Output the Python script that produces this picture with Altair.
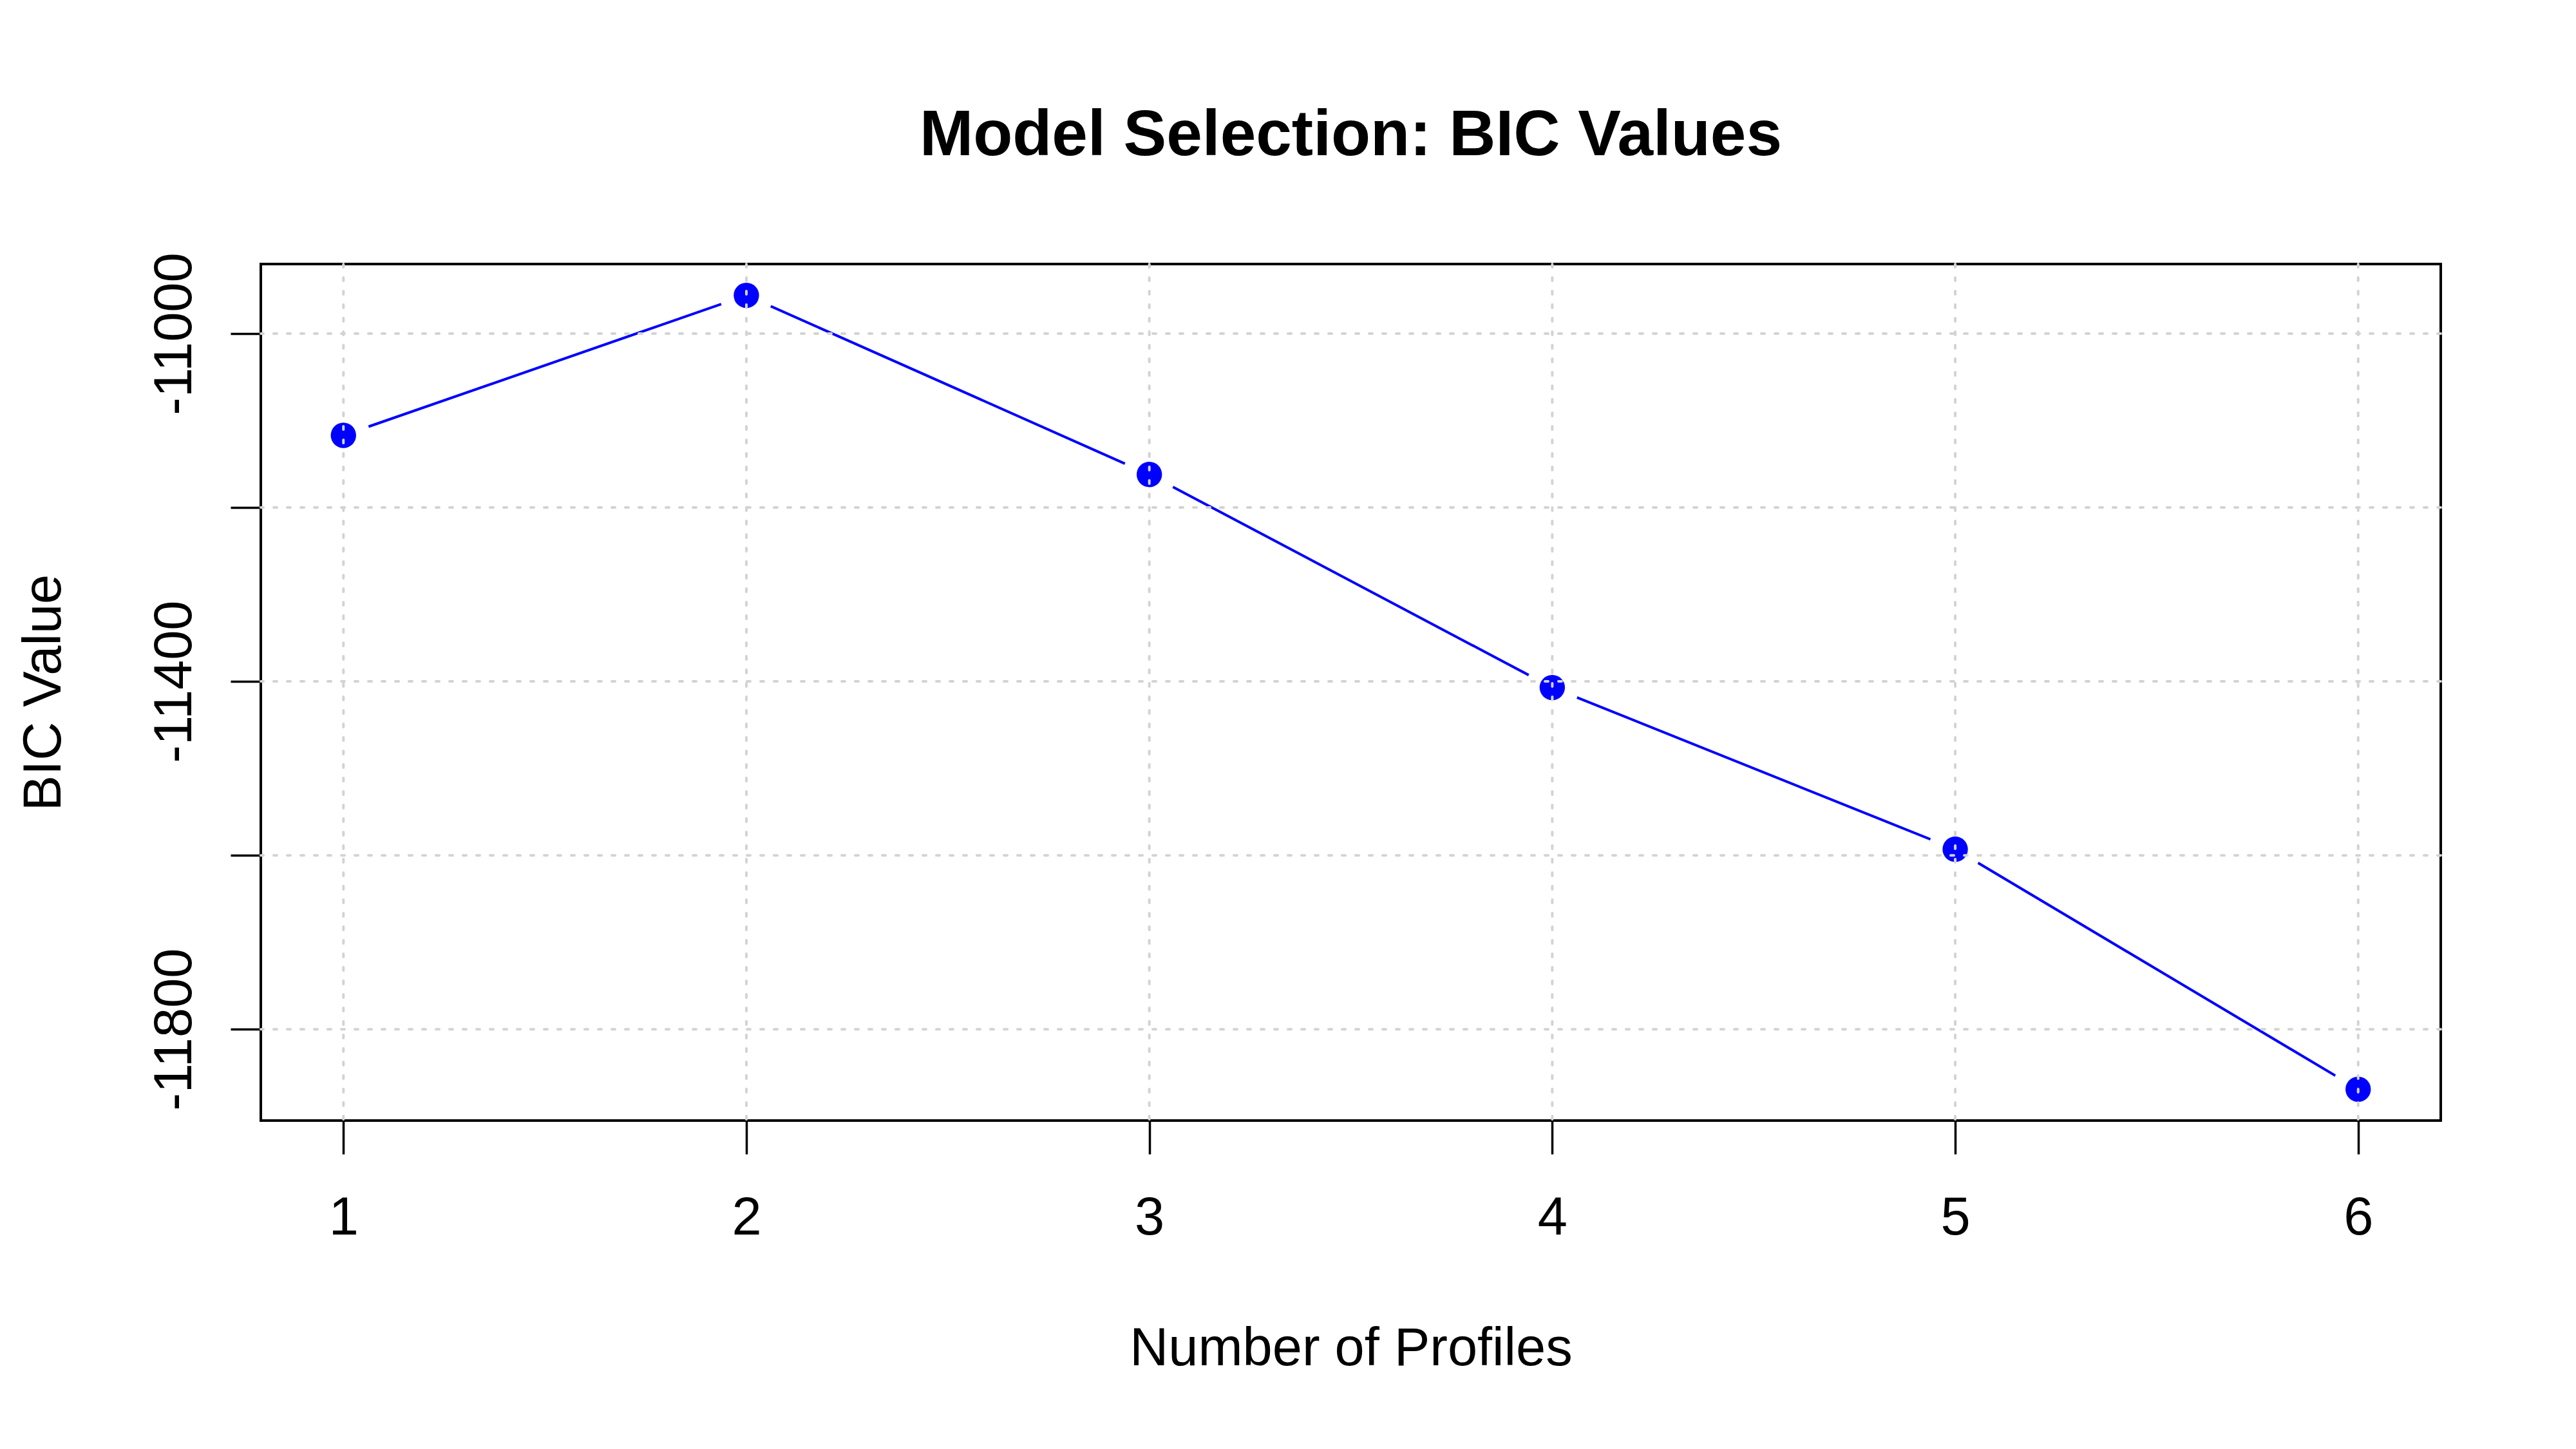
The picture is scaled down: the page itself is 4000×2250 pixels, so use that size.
import altair as alt
import pandas as pd

# Data
profiles = [1, 2, 3, 4, 5, 6]
bic = [-11117, -10956, -11162, -11407, -11593, -11869]
x_ticks = [1, 2, 3, 4, 5, 6]
y_ticks = [-11000, -11200, -11400, -11600, -11800]

df = pd.DataFrame({"profiles": profiles, "bic": bic})
xgrid = pd.DataFrame({"x": x_ticks})
ygrid = pd.DataFrame({"y": y_ticks})

FONT = "Liberation Sans"
FS = 83

xscale = alt.Scale(domain=[0.795, 6.205], nice=False, zero=False)
yscale = alt.Scale(domain=[-11905, -10920], nice=False, zero=False)

x_axis = alt.Axis(
    values=x_ticks, title="Number of Profiles", grid=False, domain=False,
    tickColor="black", tickSize=52, tickWidth=3.5, labelPadding=58,
    labelFontSize=FS, titleFontSize=FS, titlePadding=120, labelFont=FONT,
    titleFont=FONT, titleFontWeight="normal", labelColor="black",
    titleColor="black", format="d", labelLimit=0,
)
y_axis = alt.Axis(
    values=y_ticks, title="BIC Value", grid=False, domain=False,
    tickColor="black", tickSize=47, tickWidth=3.5, labelPadding=45,
    labelFontSize=FS, titleFontSize=FS, titlePadding=120, labelFont=FONT,
    titleFont=FONT, titleFontWeight="normal", labelColor="black",
    titleColor="black", labelAngle=270, labelAlign="center",
    labelBaseline="bottom", labelLimit=0,
    labelExpr="indexof([-11000, -11400, -11800], datum.value) >= 0 ? '' + datum.value : ''",
)

base = alt.Chart(df).encode(
    x=alt.X("profiles:Q", scale=xscale, axis=x_axis),
    y=alt.Y("bic:Q", scale=yscale, axis=y_axis),
)

line = base.mark_line(color="blue", strokeWidth=4)
gaps = base.mark_circle(color="white", opacity=1, size=6900)
points = base.mark_circle(color="blue", opacity=1, size=1550)

grid_style = dict(color="#D3D3D3", strokeWidth=4, strokeDash=[5, 16], strokeCap="round")
hgrid = alt.Chart(ygrid).mark_rule(**grid_style).encode(
    y=alt.Y("y:Q", scale=yscale, axis=y_axis)
)
vgrid = alt.Chart(xgrid).mark_rule(**grid_style).encode(
    x=alt.X("x:Q", scale=xscale, axis=x_axis)
)

chart = (
    alt.layer(line, gaps, points, hgrid, vgrid)
    .properties(
        width=3385,
        height=1330,
        autosize=alt.AutoSizeParams(type="none"),
        padding={"left": 397, "top": 402, "right": 200, "bottom": 400},
        title=alt.Title(
            "Model Selection: BIC Values", fontSize=100, font=FONT,
            fontWeight="bold", anchor="middle", offset=130, color="black",
        ),
    )
    .configure(background="white", view=alt.ViewConfig(stroke="black", strokeWidth=4))
)

chart.save("out.html", embed_options={"renderer": "svg", "actions": False})
